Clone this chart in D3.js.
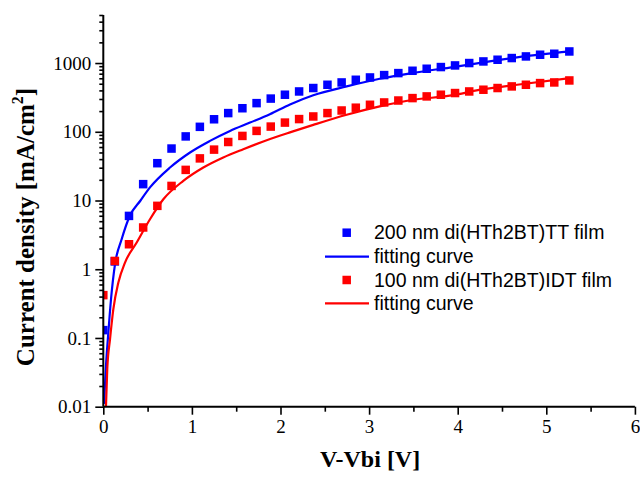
<!DOCTYPE html>
<html>
<head>
<meta charset="utf-8">
<script src="https://cdn.jsdelivr.net/npm/d3@7"></script>
<style>
  html, body { margin: 0; padding: 0; background: #fff; }
  svg { display: block; }
</style>
</head>
<body>
<svg id="chart" width="640" height="477"></svg>
<script>
// Bias voltage above built-in potential (V) for the measured points
const voltage = [0, 0.13, 0.29, 0.45, 0.61, 0.77, 0.93, 1.09, 1.25, 1.41, 1.57, 1.73, 1.89, 2.05,
  2.21, 2.37, 2.53, 2.69, 2.85, 3.01, 3.17, 3.33, 3.49, 3.65, 3.81, 3.97, 4.13, 4.29, 4.45,
  4.61, 4.77, 4.93, 5.09, 5.26];

// Measured current density (mA/cm^2)
const currentTT = [0.13, 1.3, 5.97, 17.3, 34.9, 57, 85.6, 118, 152, 187, 220, 261, 304, 346,
  386, 433, 483, 522, 571, 617, 668, 714, 772, 826, 874, 923, 1000, 1055, 1117, 1182, 1248,
  1321, 1365, 1474];
const currentIDT = [0.42, 1.32, 2.31, 4.05, 8.36, 16.3, 27.9, 41, 55, 71, 87, 103, 119, 136,
  153, 167, 187, 204, 224, 247, 267, 285, 309, 327, 346, 366, 386, 409, 433, 457, 483,
  511, 522, 558];

// Fitted curves
const fitVoltageTT = [0.008, 0.03, 0.057, 0.087, 0.132, 0.207, 0.30, 0.42, 0.527, 0.753, 0.979,
  1.204, 1.43, 1.656, 1.88, 2.107, 2.37, 2.747, 3.12, 3.50, 3.91, 4.29, 4.67, 5.27];
const fitCurrentTT = [0.011, 0.039, 0.12, 0.366, 1.18, 2.73, 6.0, 10, 15.5, 30.2, 50,
  73.7, 103, 136, 180, 250, 340, 457, 590, 720, 860, 1020, 1210, 1474];
const fitVoltageIDT = [0.03, 0.045, 0.076, 0.113, 0.17, 0.245, 0.377, 0.527, 0.68, 0.903, 1.129,
  1.354, 1.58, 1.806, 1.99, 2.107, 2.37, 2.747, 3.12, 3.50, 3.91, 4.29, 4.67, 5.27];
const fitCurrentIDT = [0.01, 0.036, 0.096, 0.26, 0.64, 1.25, 2.45, 5.34, 10.5, 19.3, 30.2,
  42.3, 55.8, 72.3, 87.5, 98, 126, 177, 234, 292, 335, 417, 483, 604];

// Axis ticks
const xTicks = [0, 1, 2, 3, 4, 5, 6];
const xMinorTicks = [0.5, 1.5, 2.5, 3.5, 4.5, 5.5];
const yTicks = [0.01, 0.1, 1, 10, 100, 1000];
const yTickLabels = ["0.01", "0.1", "1", "10", "100", "1000"];

const legendLabels = ["200 nm di(HTh2BT)TT film", "fitting curve", "100 nm di(HTh2BT)IDT film", "fitting curve"];

const BLUE = "#0000ff", RED = "#ff0000";

const svg = d3.select("#chart");
const plotLeft = 103.3, plotRight = 634.9, plotTop = 15, plotBottom = 406.7;

const x = d3.scaleLinear().domain([0, 6]).range([plotLeft, plotRight]);
const y = d3.scaleLog().domain([0.01, 5000]).range([plotBottom, plotTop]);

// clip region for the data
svg.append("defs").append("clipPath").attr("id", "plotClip")
  .append("rect").attr("x", plotLeft).attr("y", plotTop - 10)
  .attr("width", plotRight - plotLeft + 10).attr("height", plotBottom - plotTop + 10);

const plot = svg.append("g").attr("clip-path", "url(#plotClip)");

const line = d3.line().curve(d3.curveMonotoneX).x(d => x(d[0])).y(d => y(d[1]));

const ttFit = fitVoltageTT.map((v, i) => [v, fitCurrentTT[i]]);
const idtFit = fitVoltageIDT.map((v, i) => [v, fitCurrentIDT[i]]);

plot.append("path").datum(ttFit).attr("d", line)
  .attr("fill", "none").attr("stroke", BLUE).attr("stroke-width", 2.2);
plot.append("path").datum(idtFit).attr("d", line)
  .attr("fill", "none").attr("stroke", RED).attr("stroke-width", 2.2);

const sq = 8.5;
const ttPts = voltage.map((v, i) => [v, currentTT[i]]);
const idtPts = voltage.map((v, i) => [v, currentIDT[i]]);

plot.selectAll("rect.tt").data(ttPts).join("rect").attr("class", "tt")
  .attr("x", d => x(d[0]) - sq / 2).attr("y", d => y(d[1]) - sq / 2)
  .attr("width", sq).attr("height", sq).attr("fill", BLUE);
plot.selectAll("rect.idt").data(idtPts).join("rect").attr("class", "idt")
  .attr("x", d => x(d[0]) - sq / 2).attr("y", d => y(d[1]) - sq / 2)
  .attr("width", sq).attr("height", sq).attr("fill", RED);

// X axis
const xAxis = svg.append("g").attr("transform", `translate(0,${plotBottom})`)
  .call(d3.axisBottom(x).tickValues(xTicks).tickSize(8).tickPadding(5).tickFormat(d3.format("d")));
svg.append("g").attr("transform", `translate(0,${plotBottom})`)
  .call(d3.axisBottom(x).tickValues(xMinorTicks).tickSize(5).tickFormat(""))
  .select(".domain").remove();

// Y axis
const yMinor = [];
for (let e = -2; e <= 3; e++) {
  for (let m = 2; m <= 9; m++) {
    const v = m * Math.pow(10, e);
    if (v <= 5000) yMinor.push(v);
  }
}
const yAxis = svg.append("g").attr("transform", `translate(${plotLeft},0)`)
  .call(d3.axisLeft(y).tickValues(yTicks).tickSize(8).tickPadding(4)
    .tickFormat((d, i) => yTickLabels[i]));
svg.append("g").attr("transform", `translate(${plotLeft},0)`)
  .call(d3.axisLeft(y).tickValues(yMinor).tickSize(4).tickFormat(""))
  .select(".domain").remove();

svg.selectAll(".domain").attr("stroke", "#000").attr("stroke-width", 2);
svg.selectAll(".tick line").attr("stroke", "#000").attr("stroke-width", 1.6);
svg.selectAll(".tick text").attr("font-family", "'Liberation Serif', 'Times New Roman', serif")
  .attr("font-size", 19).attr("fill", "#000");
yAxis.selectAll(".domain").attr("d", `M0,${plotBottom}V${plotTop}`);
xAxis.selectAll(".domain").attr("d", `M${plotLeft},0H${plotRight}`);

// Axis titles
svg.append("text").attr("x", (plotLeft + plotRight) / 2 + 1).attr("y", 467)
  .attr("text-anchor", "middle")
  .attr("font-family", "'Liberation Serif', 'Times New Roman', serif")
  .attr("font-weight", "bold").attr("font-size", 24).attr("fill", "#000")
  .text("V-Vbi [V]");

const yTitle = svg.append("text")
  .attr("transform", "translate(34,227) rotate(-90)")
  .attr("text-anchor", "middle")
  .attr("font-family", "'Liberation Serif', 'Times New Roman', serif")
  .attr("font-weight", "bold").attr("font-size", 25).attr("fill", "#000");
yTitle.append("tspan").text("Current density [mA/cm");
yTitle.append("tspan").attr("font-size", 16).attr("dy", -11).text("2");
yTitle.append("tspan").attr("dy", 11).text("]");

// Legend
const legend = svg.append("g");
const legY = [232.7, 256.7, 280, 303.3];
const legColors = [BLUE, BLUE, RED, RED];
legendLabels.forEach((label, i) => {
  const ly = legY[i];
  if (i % 2 === 0) {
    legend.append("rect").attr("x", 346.7 - sq / 2).attr("y", ly - sq / 2)
      .attr("width", sq).attr("height", sq).attr("fill", legColors[i]);
  } else {
    legend.append("line").attr("x1", 325).attr("x2", 369).attr("y1", ly).attr("y2", ly)
      .attr("stroke", legColors[i]).attr("stroke-width", 2.2);
  }
  legend.append("text").attr("x", 374).attr("y", ly + 6.5)
    .attr("font-family", "'Liberation Sans', Arial, sans-serif")
    .attr("font-size", 19.5).attr("fill", "#000").text(label);
});
</script>
</body>
</html>
